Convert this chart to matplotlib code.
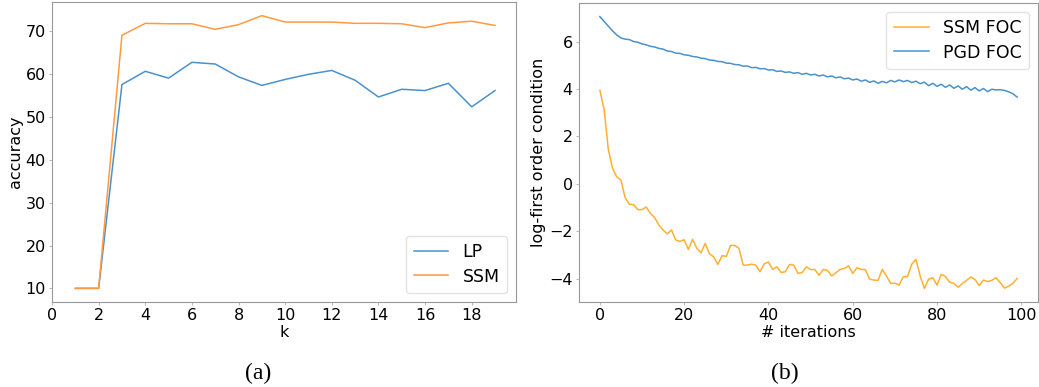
import matplotlib
matplotlib.use("Agg")
import matplotlib.pyplot as plt

k_values = list(range(1, 20))
lp_acc = [10, 10, 57.6, 60.7, 59.1, 62.8, 62.4, 59.4, 57.4, 58.8, 60.0, 60.9,
          58.6, 54.7, 56.5, 56.2, 57.9, 52.4, 56.2]
ssm_acc = [10, 10, 69.1, 71.9, 71.8, 71.8, 70.5, 71.6, 73.7, 72.2, 72.2, 72.2,
           71.9, 71.9, 71.8, 70.9, 72.0, 72.4, 71.4]

iterations = list(range(100))
ssm_foc = [3.95, 3.15, 1.46, 0.66, 0.30, 0.17, -0.58, -0.86, -0.87, -1.08,
           -1.08, -0.97, -1.24, -1.42, -1.73, -1.94, -2.10, -1.94, -2.36, -2.42,
           -2.35, -2.76, -2.33, -2.71, -2.90, -2.50, -2.94, -3.07, -3.39, -3.02,
           -3.05, -2.59, -2.59, -2.71, -3.42, -3.42, -3.38, -3.42, -3.70, -3.36,
           -3.29, -3.60, -3.49, -3.73, -3.70, -3.39, -3.42, -3.77, -3.73, -3.49,
           -3.61, -3.60, -3.85, -3.60, -3.64, -3.88, -3.74, -3.60, -3.56, -3.45,
           -3.77, -3.53, -3.60, -3.61, -4.01, -4.05, -4.06, -3.60, -3.88, -4.19,
           -4.18, -4.26, -3.91, -3.90, -3.38, -3.18, -3.88, -4.40, -4.01, -3.95,
           -4.26, -3.81, -3.90, -4.14, -4.19, -4.35, -4.19, -4.06, -3.92, -4.02,
           -4.28, -4.05, -4.11, -4.06, -3.95, -4.16, -4.39, -4.30, -4.19, -3.98]
pgd_foc = [7.05, 6.85, 6.65, 6.45, 6.28, 6.15, 6.10, 6.08, 6.00, 5.97,
           5.90, 5.86, 5.80, 5.77, 5.71, 5.68, 5.60, 5.58, 5.51, 5.50,
           5.44, 5.42, 5.37, 5.35, 5.30, 5.28, 5.22, 5.21, 5.16, 5.15,
           5.09, 5.08, 5.03, 5.02, 4.96, 4.97, 4.90, 4.91, 4.85, 4.86,
           4.80, 4.81, 4.74, 4.76, 4.70, 4.72, 4.66, 4.69, 4.62, 4.66,
           4.59, 4.62, 4.55, 4.59, 4.51, 4.55, 4.47, 4.51, 4.43, 4.46,
           4.38, 4.42, 4.33, 4.38, 4.28, 4.34, 4.24, 4.32, 4.26, 4.36,
           4.30, 4.38, 4.31, 4.36, 4.27, 4.33, 4.22, 4.29, 4.14, 4.24,
           4.11, 4.20, 4.07, 4.17, 4.03, 4.13, 3.99, 4.10, 3.95, 4.06,
           3.92, 4.02, 3.89, 3.99, 3.96, 3.97, 3.94, 3.88, 3.80, 3.66]

plt.rcParams['font.family'] = ['DejaVu Sans']
FS = 11.5
LFS = 12.5

fig = plt.figure(figsize=(10.39, 3.87), dpi=100)
W, H = 1039, 387
ax1 = fig.add_axes([52 / W, 1 - 302 / H, (516 - 52) / W, (302 - 2) / H])
ax2 = fig.add_axes([579 / W, 1 - 302 / H, (1038 - 579) / W, (302 - 3) / H])

ax1.plot(k_values, lp_acc, color='#4a92cc', lw=1.1, label='LP')
ax1.plot(k_values, ssm_acc, color='#ff9a40', lw=1.1, label='SSM')
ax1.set_xlim(0, 19.9)
ax1.set_xticks(range(0, 20, 2))
ax1.set_yticks(range(10, 80, 10))
ax1.set_xlabel('k', fontsize=FS, labelpad=1)
ax1.set_ylabel('accuracy', fontsize=FS, labelpad=2)
ax1.legend(loc='lower right', fontsize=LFS, handlelength=2.0, borderpad=0.45,
           labelspacing=0.35, edgecolor='#dddddd')

ax2.plot(iterations, ssm_foc, color='#ffb030', lw=1.1, label='SSM FOC')
ax2.plot(iterations, pgd_foc, color='#4a92cc', lw=1.1, label='PGD FOC')
ax2.set_xticks(range(0, 101, 20))
ax2.set_yticks([-4, -2, 0, 2, 4, 6])
ax2.set_xlabel('# iterations', fontsize=FS, labelpad=1)
ax2.set_ylabel('log-first order condition', fontsize=FS, labelpad=2)
ax2.legend(loc='upper right', fontsize=LFS, handlelength=2.0, borderpad=0.45,
           labelspacing=0.35, edgecolor='#dddddd')

for ax in (ax1, ax2):
    for s in ax.spines.values():
        s.set_color('#999999')
    ax.tick_params(labelsize=FS, length=2.5, color='#bbbbbb', pad=2)

fig.text(258 / W, 1 - 373 / H, '(a)', family='Liberation Serif', fontsize=17,
         ha='center', va='center')
fig.text(785 / W, 1 - 373 / H, '(b)', family='Liberation Serif', fontsize=17,
         ha='center', va='center')

fig.savefig('out.png', dpi=100)
